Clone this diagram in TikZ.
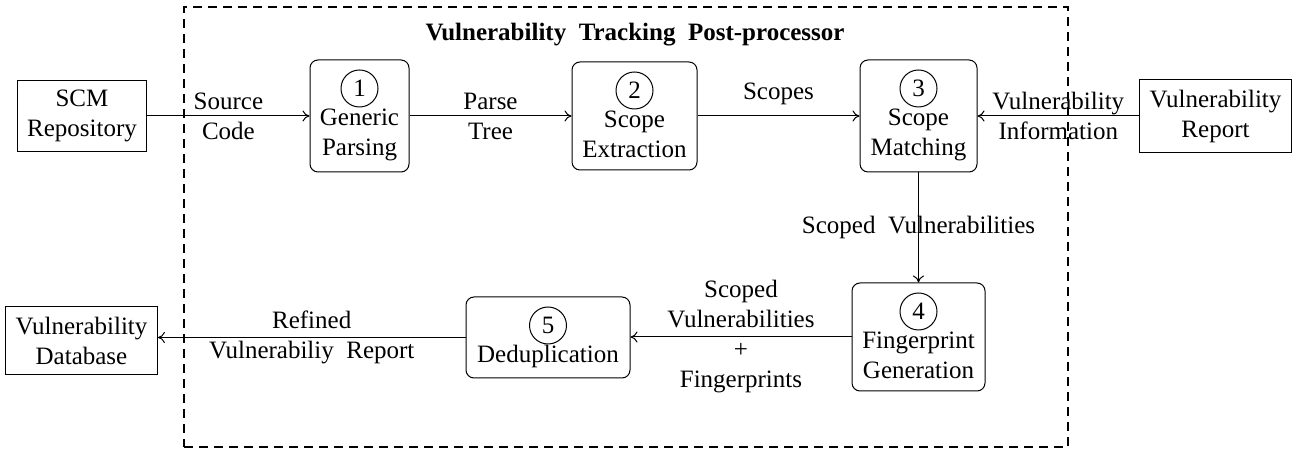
\documentclass[tikz,border=0pt]{standalone}
\usepackage{fontspec}
\setmainfont{LiberationSerif}[Extension=.ttf, UprightFont=*-Regular, BoldFont=*-Bold, WordSpace=2]
\usetikzlibrary{arrows.meta}
\newcommand\mlines[1]{\begin{tabular}[t]{@{}c@{}}#1\end{tabular}}
\begin{document}
\begin{tikzpicture}[x=0.5pt,y=-0.5pt,
  every node/.style={font=\fontsize{12.5}{15}\selectfont},
  plain/.style={draw, line width=0.5pt, align=center, inner xsep=5pt, inner ysep=5pt},
  proc/.style={draw, line width=0.5pt, rounded corners=4pt, inner sep=0pt},
  numc/.style={draw, circle, line width=0.5pt, minimum size=18.5pt, inner sep=0pt},
  ptext/.style={anchor=base, inner sep=0pt},
  lbl/.style={align=center, midway},
  conn/.style={line width=0.5pt, -{To[length=3.5pt,width=5.5pt]}},
  frame/.style={draw, line width=0.9pt, dash pattern=on 4.5pt off 3pt, inner sep=0pt}
]
\useasboundingbox (0,0) rectangle (1301,453);

\node[frame, minimum width=442pt, minimum height=220pt] (frame) at (626,227) {};
\node[font=\fontsize{12.5}{15}\selectfont\bfseries, anchor=base] (title) at (635,41) {Vulnerability Tracking Post-processor};

\node[plain] (scm) at (82,116) {SCM\\Repository};
\node[plain] (rep) at (1215.5,116) {Vulnerability\\Report};
\node[plain] (db) at (81.5,340.5) {Vulnerability\\Database};

\node[proc, minimum width=49.5pt, minimum height=56pt] (n1) at (359.5,116) {};
\node[numc] (c1) at (359.5,88.5) {1};
\node[ptext] (t1) at (359.5,126) {\mlines{Generic\\Parsing}};

\node[proc, minimum width=62.5pt, minimum height=54pt] (n2) at (634.5,116) {};
\node[numc] (c2) at (634.5,90.5) {2};
\node[ptext] (t2) at (634.5,128) {\mlines{Scope\\Extraction}};

\node[proc, minimum width=58.5pt, minimum height=56pt] (n3) at (918.5,116) {};
\node[numc] (c3) at (918.5,88.5) {3};
\node[ptext] (t3) at (918.5,126) {\mlines{Scope\\Matching}};

\node[proc, minimum width=66.5pt, minimum height=54pt] (n4) at (918.5,337) {};
\node[numc] (c4) at (918.5,311.5) {4};
\node[ptext] (t4) at (918.5,349) {\mlines{Fingerprint\\Generation}};

\node[proc, minimum width=82pt, minimum height=40.5pt] (n5) at (548,337.5) {};
\node[numc] (c5) at (548,325.5) {5};
\node[ptext] (t5) at (548,363) {\mlines{Deduplication}};

\draw[conn] (scm) -- (n1) node[lbl] (l1) {Source\\Code};
\draw[conn] (n1) -- (n2) node[lbl] (l2) {Parse\\Tree};
\draw[conn] (n2) -- (n3) node[lbl, above, inner sep=5.5pt] (l3) {Scopes};
\draw[conn] (rep) -- (n3) node[lbl] (l4) {Vulnerability\\Information};
\draw[conn] (n3) -- (n4) node[lbl] (l5) {Scoped Vulnerabilities};
\draw[conn] (n4.west) -- (n4.west -| n5.east) node[lbl] (l6) {Scoped\\Vulnerabilities\\+\\Fingerprints};
\draw[conn] (n5.west) -- (n5.west -| db.east) node[lbl] (l7) {Refined\\Vulnerabiliy Report};
\end{tikzpicture}
\end{document}
